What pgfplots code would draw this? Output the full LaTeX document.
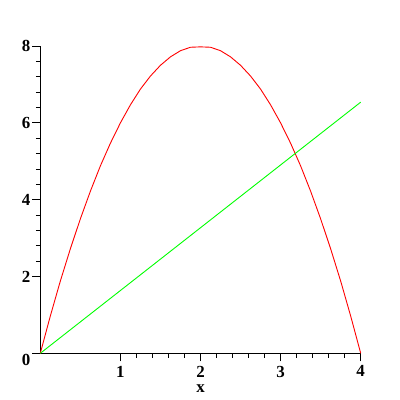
\documentclass[border=0pt]{standalone}
\usepackage{pgfplots}
\pgfplotsset{compat=1.18}
\usepackage{fontspec}
\setmainfont{Liberation Serif}
\begin{document}
\begin{tikzpicture}
\path[use as bounding box] (-40.3bp,-46.7bp) rectangle ++(400bp,400bp);
\begin{axis}[
  scale only axis,
  width=320.4bp, height=307.2bp,
  xmin=0, xmax=4, ymin=0, ymax=8,
  axis lines=left,
  axis line style={-, black, line width=0.9bp},
  xtick={1,2,3,4}, ytick={2,4,6,8},
  extra y ticks={0},
  extra y tick style={yticklabel style={yshift=-7bp}},
  minor x tick num=4, minor y tick num=4,
  tick align=outside,
  major tick length=8bp, minor tick length=4.5bp,
  tick style={black, line width=0.9bp},
  /pgf/number format/assume math mode=true,
  every tick label/.append style={font=\fontsize{17}{19}\selectfont\bfseries},
  xticklabel style={anchor=north, yshift=-1bp},
  yticklabel style={anchor=east, xshift=1.5bp},
  xlabel={x},
  xlabel style={font=\fontsize{17}{19}\selectfont\bfseries, at={(axis description cs:0.5,0)}, anchor=center, yshift=-35.5bp},
  clip=false,
]
\addplot[red, line width=0.9bp] coordinates {
(0,0) (0.125,0.97) (0.25,1.88) (0.375,2.72) (0.5,3.5) (0.625,4.22) (0.75,4.88)
(0.875,5.47) (1,6.0) (1.125,6.47) (1.25,6.88) (1.375,7.22) (1.5,7.5) (1.625,7.72)
(1.75,7.88) (1.875,7.97) (2,7.98) (2.125,7.97) (2.25,7.88) (2.375,7.72) (2.5,7.5)
(2.625,7.22) (2.75,6.88) (2.875,6.47) (3,6.0) (3.125,5.47) (3.25,4.88) (3.375,4.22)
(3.5,3.5) (3.625,2.72) (3.75,1.88) (3.875,0.97) (4,0)
};
\addplot[green, line width=0.9bp] coordinates {(0,0) (4,6.54)};
\end{axis}
\end{tikzpicture}
\end{document}
